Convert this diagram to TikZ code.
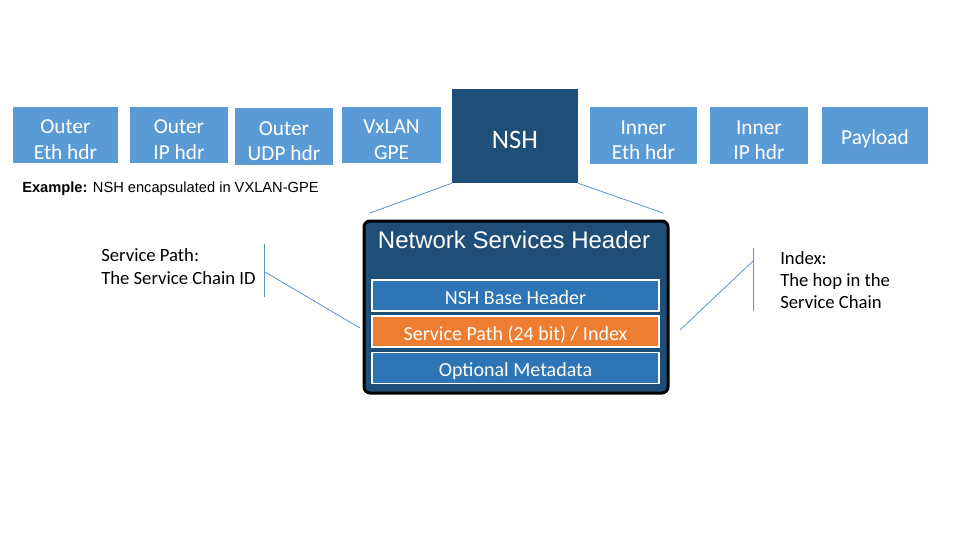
\documentclass[tikz,border=0pt]{standalone}
\usepackage{fontspec}
\setmainfont{Carlito}
\newfontfamily\arialfont{Liberation Sans}
\definecolor{hdrblue}{RGB}{91,155,213}
\definecolor{nshdark}{RGB}{31,78,121}
\definecolor{barblue}{RGB}{46,117,182}
\definecolor{barorange}{RGB}{237,125,49}
\definecolor{leadline}{RGB}{91,146,205}
\tikzset{
  hdrbox/.style={fill=hdrblue, text=white, inner sep=0pt, align=center,
    text height=36pt, text depth=0pt, font=\fontsize{16}{19}\selectfont},
  barbox/.style={fill=barblue, draw=white, line width=1.1pt, text=white, inner sep=0pt,
    text height=13pt, text depth=0pt,
    minimum width=215.25pt, minimum height=23.25pt, font=\fontsize{15}{18}\selectfont},
  leader/.style={draw=leadline, line width=0.6pt},
  notetext/.style={align=left, inner sep=0pt, font=\fontsize{14}{17.25}\selectfont}
}
\begin{document}
\begin{tikzpicture}[x=0.75pt,y=0.75pt,yscale=-1,xscale=1]
        \useasboundingbox (0,0) rectangle (960,540);

        %Header row
        \node [hdrbox, minimum width=78.75pt, minimum height=42pt] (outeth) at (65.5,135) {Outer\\Eth hdr};
        \node [hdrbox, minimum width=73.5pt, minimum height=42pt] (outip) at (179,135) {Outer\\IP hdr};
        \node [hdrbox, minimum width=73.5pt, minimum height=42.75pt] (outudp) at (284,136.5) {Outer\\UDP hdr};
        \node [hdrbox, minimum width=74.25pt, minimum height=42pt] (vxlan) at (391.5,135) {VxLAN\\GPE};
        \node [hdrbox, fill=nshdark, minimum width=94.5pt, minimum height=70.5pt, text height=18pt,
          font=\fontsize{20}{24}\selectfont] (nsh) at (515,136) {NSH};
        \node [hdrbox, minimum width=80.25pt, minimum height=42.75pt] (ineth) at (643.5,135.5) {Inner\\Eth hdr};
        \node [hdrbox, minimum width=73.5pt, minimum height=42.75pt] (inip) at (759,135.5) {Inner\\IP hdr};
        \node [hdrbox, minimum width=79.5pt, minimum height=42.75pt, text height=14pt] (payload) at (875,135.5) {Payload};

        % Text Node
        \node [anchor=base west, inner sep=0pt, font=\arialfont\fontsize{11}{13}\selectfont] (example) at (22,192)
          {\textbf{Example:} NSH encapsulated in VXLAN-GPE};

        %Network Services Header box
        \node [draw=black, line width=2.25pt, rounded corners=4.5pt, fill=nshdark,
          minimum width=228pt, minimum height=129pt] (nshbig) at (516,307) {};
        % Text Node
        \node [anchor=base, inner sep=0pt, text=white, font=\arialfont\fontsize{18}{21}\selectfont] (nshtitle) at (514,248) {Network Services Header};
        \node [barbox] (basehdr) at (515.5,295.5) {NSH Base Header};
        \node [barbox, fill=barorange] (svcpath) at (515.5,331.5) {Service Path (24 bit) / Index};
        \node [barbox] (metadata) at (515.5,368) {Optional Metadata};

        %Straight Lines
        \coordinate (zoomL) at (370,213);
        \coordinate (zoomR) at (663,213);
        \draw [leader] (nsh.south west) -- (zoomL);
        \draw [leader] (nsh.south east) -- (zoomR);

        % Text Node
        \node [notetext, anchor=base west] (pathnote) at (101,284) {Service Path:\\The Service Chain ID};
        \coordinate (pathtop) at (264,244);
        \coordinate (pathbot) at (264,297);
        \coordinate (pathmid) at (265,272);
        \coordinate (pathend) at (360,328);
        \draw [leader] (pathtop) -- (pathbot);
        \draw [leader] (pathmid) -- (pathend);

        % Text Node
        \node [notetext, anchor=base west, font=\fontsize{14}{16.5}\selectfont] (indexnote) at (780,308) {Index:\\The hop in the\\Service Chain};
        \coordinate (idxtop) at (753,248);
        \coordinate (idxbot) at (753,311);
        \coordinate (idxmid) at (753,261);
        \coordinate (idxend) at (680,330);
        \draw [leader] (idxtop) -- (idxbot);
        \draw [leader] (idxmid) -- (idxend);

\end{tikzpicture}
\end{document}
